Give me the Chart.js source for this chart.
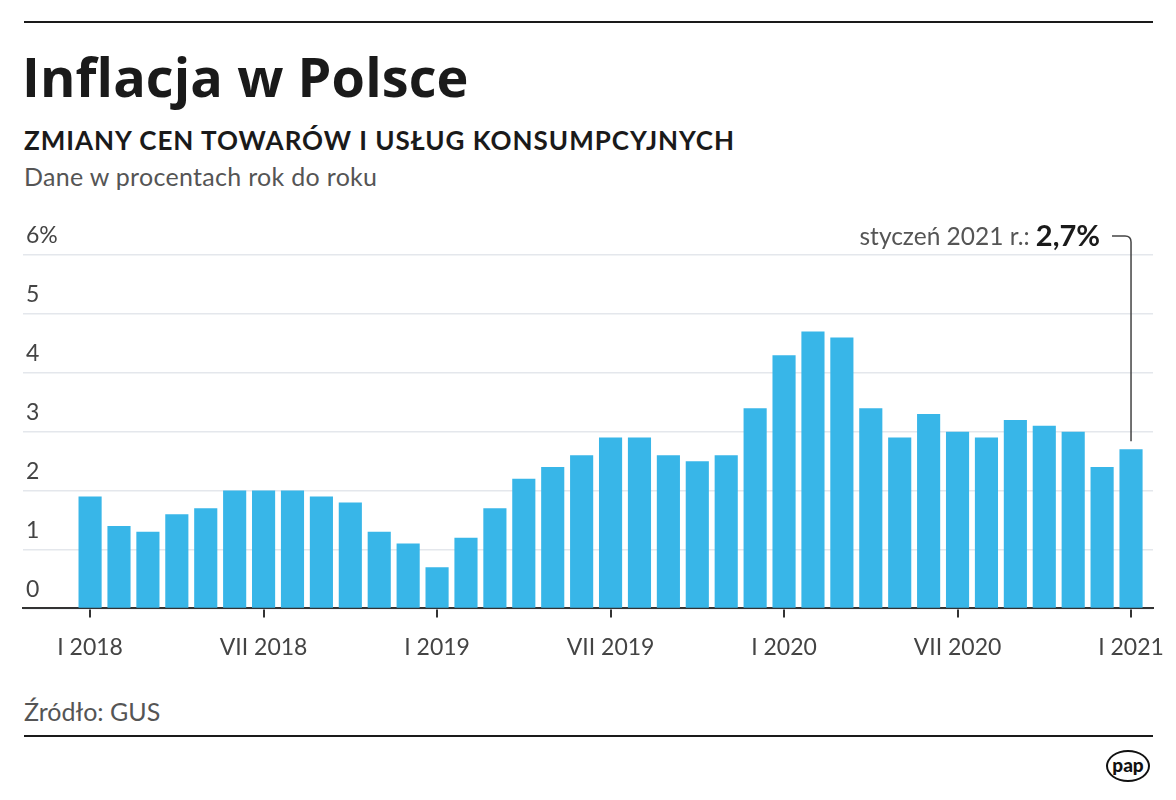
<!DOCTYPE html>
<html lang="pl">
<head>
<meta charset="utf-8">
<script src="https://cdn.jsdelivr.net/npm/chart.js@4.4.1/dist/chart.umd.min.js"></script>
<style>
  body { margin:0; width:1176px; height:800px; background:#fff; font-family:Lato, "Noto Sans", sans-serif; position:relative; overflow:hidden; }
  .abs { position:absolute; white-space:nowrap; }
  .rule { position:absolute; left:24px; width:1129px; height:2px; background:#1a1a1a; }
  #title { left:22px; top:39px; font-family:"Open Sans", Lato, sans-serif; font-size:54px; font-weight:700; color:#1a1a1a; letter-spacing:0.1px; }
  #sub { left:24px; top:124px; font-size:26px; font-weight:700; color:#1a1a1a; letter-spacing:1px; }
  #desc { left:24px; top:161px; font-size:25px; color:#555; letter-spacing:0.3px; }
  #src { left:24px; top:696px; font-size:25px; color:#555; }
  #pap { left:1106px; top:750px; width:40px; height:28px; border:2px solid #111; border-radius:50%; font-size:19px; font-weight:900; line-height:26px; text-align:center; color:#111; }
  #wrap { position:absolute; left:0; top:200px; width:1176px; height:480px; }
</style>
</head>
<body>
<div class="rule" style="top:21px"></div>
<div class="abs" id="title">Inflacja w Polsce</div>
<div class="abs" id="sub">ZMIANY CEN TOWARÓW I USŁUG KONSUMPCYJNYCH</div>
<div class="abs" id="desc">Dane w procentach rok do roku</div>
<div id="wrap"><canvas id="grafico"></canvas></div>
<div class="abs" id="src">Źródło: GUS</div>
<div class="rule" style="top:735px"></div>
<div class="abs" id="pap">pap</div>

<script>
//miesiace I 2018 - I 2021
var months = ["I 2018","II","III","IV","V","VI","VII","VIII","IX","X","XI","XII",
  "I 2019","II","III","IV","V","VI","VII","VIII","IX","X","XI","XII",
  "I 2020","II","III","IV","V","VI","VII","VIII","IX","X","XI","XII","I 2021"];
//inflacja r/r w %
var values = [1.9,1.4,1.3,1.6,1.7,2.0,2.0,2.0,1.9,1.8,1.3,1.1,
  0.7,1.2,1.7,2.2,2.4,2.6,2.9,2.9,2.6,2.5,2.6,3.4,
  4.3,4.7,4.6,3.4,2.9,3.3,3.0,2.9,3.2,3.1,3.0,2.4,2.7];
//etykiety osi x
var tickIdx = [0,6,12,18,24,30,36];
var tickLabels = ["I 2018","VII 2018","I 2019","VII 2019","I 2020","VII 2020","I 2021"];
//etykiety osi y
var yTicks = [0,1,2,3,4,5,6];

var FONT = "Lato, 'Noto Sans', sans-serif";

//adnotacja dla ostatniego slupka
var callout = {
  id: 'callout',
  afterDatasetsDraw(chart){
    var ctx = chart.ctx;
    var meta = chart.getDatasetMeta(0);
    var last = meta.data[meta.data.length-1];
    var bx = last.x, by = last.y;
    var ly = chart.scales.y.getPixelForValue(6) - 19;
    ctx.save();
    ctx.strokeStyle = '#444';
    ctx.lineWidth = 1.5;
    ctx.beginPath();
    ctx.moveTo(bx - 19, ly);
    ctx.lineTo(bx - 6, ly);
    ctx.quadraticCurveTo(bx, ly, bx, ly + 6);
    ctx.lineTo(bx, by - 8);
    ctx.stroke();
    var val = values[values.length-1].toFixed(1).replace('.', ',') + '%';
    ctx.textBaseline = 'middle';
    ctx.textAlign = 'right';
    ctx.font = "700 29px " + FONT;
    ctx.fillStyle = '#1a1a1a';
    var rx = bx - 31;
    ctx.fillText(val, rx, ly + 1);
    var w = ctx.measureText(val).width;
    ctx.font = "400 24.5px " + FONT;
    ctx.fillStyle = '#555';
    ctx.fillText('styczeń 2021 r.: ', rx - w, ly + 1);
    ctx.restore();
  }
};

new Chart(document.getElementById("grafico"), {
  type: 'bar',
  data: {
    datasets: [{
      data: values.map((v, i) => ({x: i, y: v})),
      backgroundColor: '#38b6e8',
      borderWidth: 0,
      barPercentage: 0.8,
      categoryPercentage: 1
    }]
  },
  plugins: [callout],
  options: {
    responsive: true,
    maintainAspectRatio: false,
    animation: false,
    layout: { padding: { left: 17, right: 23, top: 55, bottom: 3 } },
    plugins: { legend: { display: false }, tooltip: { enabled: false } },
    scales: {
      x: {
        type: 'linear',
        offset: false,
        min: -2.32,
        max: 36.76,
        afterBuildTicks: s => { s.ticks = tickIdx.map(v => ({value: v})); },
        afterFit: s => { s.paddingLeft = 0; s.paddingRight = 0; },
        ticks: {
          callback: v => tickLabels[tickIdx.indexOf(v)],
          font: { family: FONT, size: 23 },
          color: '#444',
          padding: 16,
          maxRotation: 0,
          autoSkip: false
        },
        grid: { offset: false, drawOnChartArea: false, drawTicks: true, tickLength: 9, color: '#333', lineWidth: 2 },
        border: { display: true, color: '#333', width: 2 }
      },
      y: {
        min: 0,
        max: 6,
        afterBuildTicks: s => { s.ticks = yTicks.map(v => ({value: v})); },
        ticks: {
          mirror: true,
          padding: 3,
          labelOffset: -19,
          callback: v => v === 6 ? '6%' : String(v),
          font: { family: FONT, size: 23 },
          color: '#444'
        },
        grid: { drawTicks: false, color: '#e4e7ec', lineWidth: 1.5 },
        border: { display: false }
      }
    }
  }
});
</script>
</body>
</html>
